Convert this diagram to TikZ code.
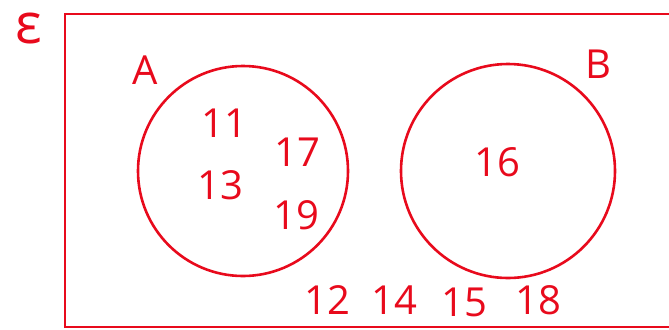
\documentclass[tikz,border=0pt]{standalone}
\usepackage{fontspec}
\setmainfont{Open Sans}
\definecolor{penred}{RGB}{232,10,28}
\begin{document}
\begin{tikzpicture}[x=0.5pt, y=0.5pt, every node/.style={font=\fontsize{20}{20}\selectfont, text=penred}]
  \useasboundingbox (0,0) rectangle (669,329);
  \clip (0,0) rectangle (669,329);
  \coordinate (SW) at (65,2);
  \coordinate (NE) at (720,315);
  \coordinate (A) at (243,158);
  \coordinate (B) at (508,158);

  \draw[penred, line width=1.4pt] (SW) rectangle (NE);
  \draw[penred, line width=1.3pt] (A) circle[radius=105];
  \draw[penred, line width=1.3pt] (B) circle[radius=107];

  \node[font=\fontsize{28}{28}\selectfont] (eps) at (29,300) {ε};
  \node (lblA) at (145,259) {A};
  \node (lblB) at (598,265) {B};
  \node (n11) at (224,206) {11};
  \node (n13) at (220,144) {13};
  \node (n17) at (297,177) {17};
  \node (n19) at (296,114) {19};
  \node (n16) at (497,167) {16};
  \node (n12) at (327,29) {12};
  \node (n14) at (394,29) {14};
  \node (n15) at (464,27) {15};
  \node (n18) at (538,29) {18};
\end{tikzpicture}
\end{document}
